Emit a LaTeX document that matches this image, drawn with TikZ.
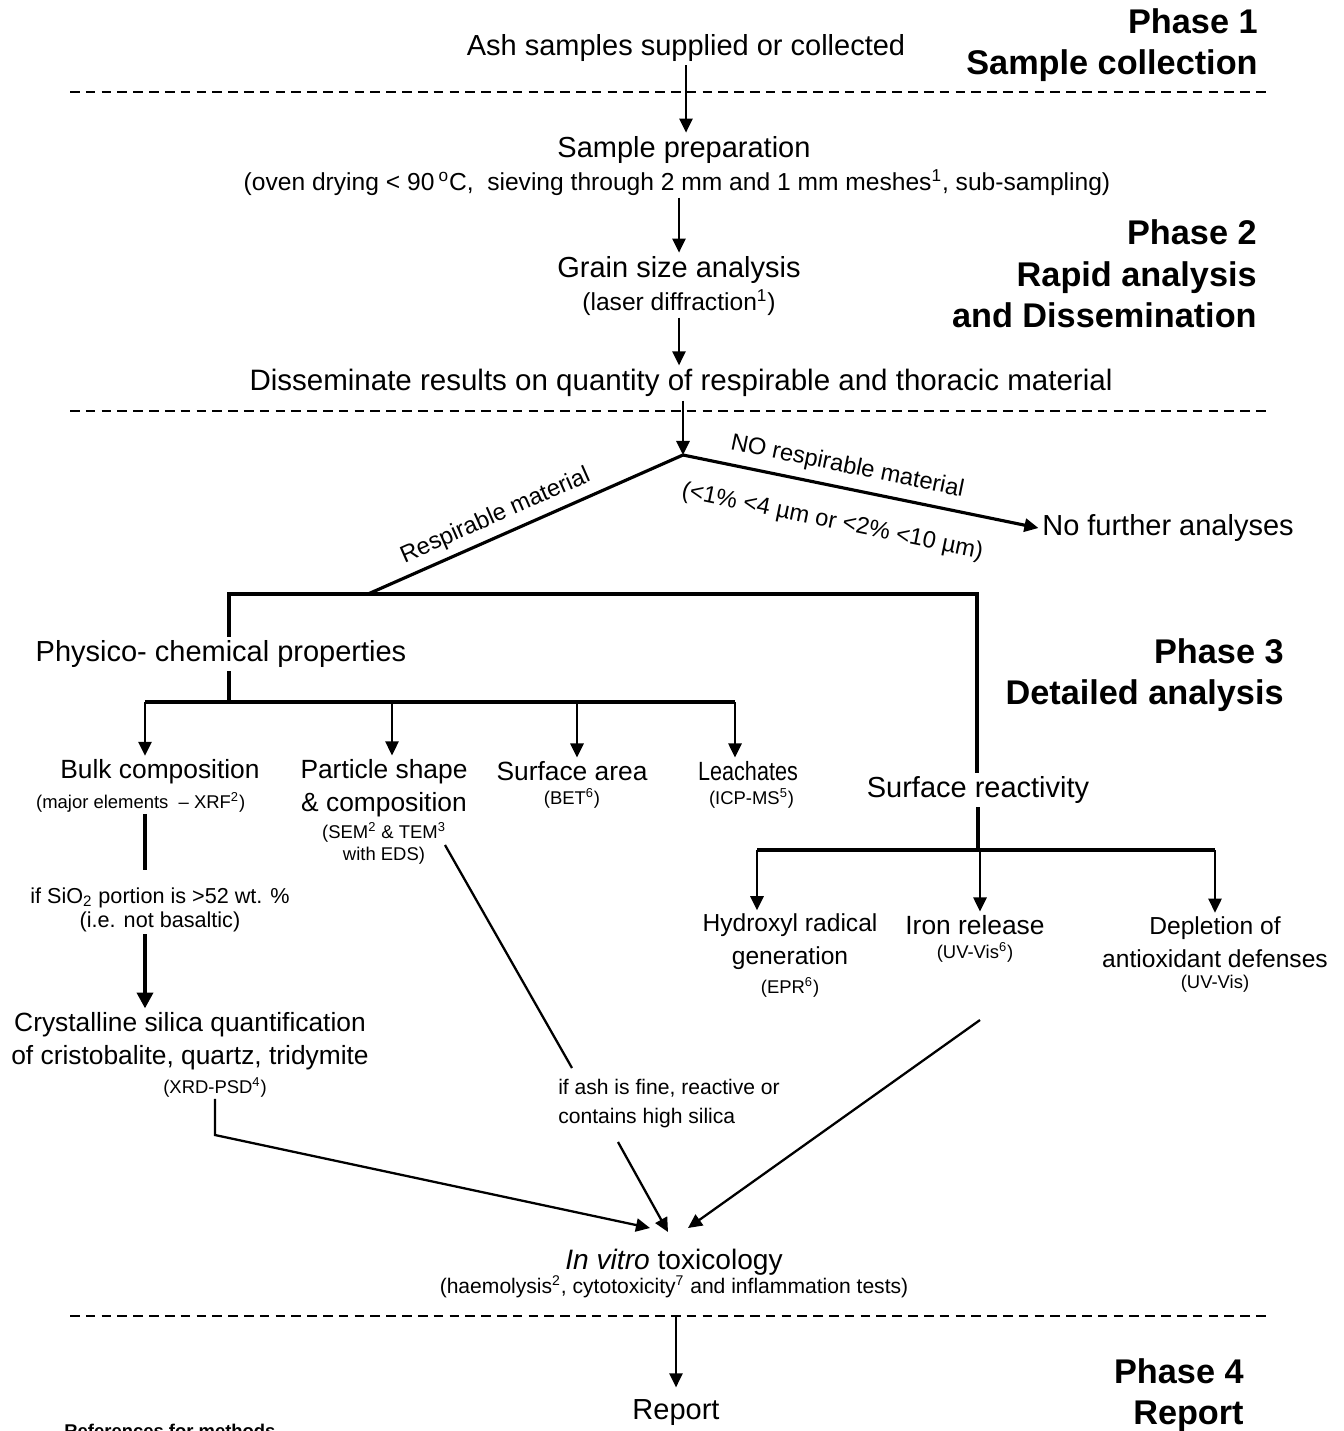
\documentclass[tikz,border=0pt]{standalone}
\usepackage{fontspec}
\setmainfont{Liberation Sans}
\newfontfamily\narrowsans[FakeStretch=0.82]{Liberation Sans}
\usetikzlibrary{arrows.meta,positioning}
\tikzset{
    %Define standard arrow tip
    >={Triangle[length=8pt,width=7.5pt]},
    %Define styles for labels
    mainlabel/.style={
           font=\fontsize{16.5}{20}\selectfont,
           align=center,
           inner sep=2pt},
    sublabel/.style={
           font=\fontsize{14}{17}\selectfont,
           align=center,
           inner sep=1pt},
    lowlabel/.style={
           font=\fontsize{15}{18.7}\selectfont,
           align=center,
           inner sep=2pt},
    smalllabel/.style={
           font=\fontsize{10.5}{12.3}\selectfont,
           align=center,
           inner sep=1pt},
    notelabel/.style={
           font=\fontsize{12.3}{13.6}\selectfont,
           align=center,
           inner sep=1pt},
    branchlabel/.style={
           font=\fontsize{13.5}{16}\selectfont,
           inner sep=2pt},
    phasehead/.style={
           font=\bfseries\fontsize{19.5}{23.5}\selectfont,
           align=right,
           inner sep=0pt,
           anchor=east},
    refslabel/.style={
           font=\bfseries\fontsize{10.5}{12}\selectfont,
           inner sep=0pt},
    % Define line styles
    flow/.style={
           ->,
           line width=1.3pt},
    tree/.style={
           line width=1.8pt},
    bigflow/.style={
           -{Triangle[length=9pt,width=9pt]},
           line width=2.4pt},
    sep/.style={
           dash pattern=on 5.5pt off 3.5pt,
           line width=1pt}
}
\begin{document}
\begin{tikzpicture}[x=0.02cm,y=-0.02cm]
\useasboundingbox (0,0) rectangle (1344,1431);

% phases
\node[phasehead] (ph1) at (1258,45) {Phase 1\\Sample collection};
\node[phasehead] (ph2) at (1257,274) {Phase 2\\Rapid analysis\\and Dissemination};
\node[phasehead] (ph3) at (1284,675) {Phase 3\\Detailed analysis};
\node[phasehead] (ph4) at (1244,1395) {Phase 4\\Report};
\foreach \y in {92,411,1316}
    \draw[sep] (70,\y) -- (1268,\y);

% sample collection and rapid analysis
\node[mainlabel] (ash) at (686,48) {Ash samples supplied or collected};
\node[mainlabel] (prep) at (684,150) {Sample preparation};
\node[sublabel, below=0pt of prep, xshift=-4] (prepsub) {(oven drying < 90\,\textsuperscript{o}C,\ \ sieving through 2 mm and 1 mm meshes\textsuperscript{1}, sub-sampling)};
\node[mainlabel] (grain) at (679,270) {Grain size analysis};
\node[sublabel, font=\fontsize{14}{16}\selectfont, below=0pt of grain] (grainsub) {(laser diffraction\textsuperscript{1})};
\node[mainlabel, font=\fontsize{16.8}{19}\selectfont] (dissem) at (681,383) {Disseminate results on quantity of respirable and thoracic material};
\node[mainlabel] (nofurther) at (1168,528) {No further analyses};

\draw[flow] (ash.south) -- (ash.south |- prep.north);
\draw[flow] (grain.north |- prepsub.south) -- (grain.north);
\draw[flow] (grainsub.south) -- (grainsub.south |- dissem.north);

% split
\coordinate (split) at (683,455);
\coordinate (resp) at (368,594);
\coordinate (hl) at (229,594);
\coordinate (hr) at (977,594);
\draw[flow] (split |- dissem.south) -- (split);
\draw[tree] (split) -- node[branchlabel, sloped, above=2pt, pos=0.57] {Respirable material} (resp);
\draw[tree, ->] (split) -- node[branchlabel, sloped, above=3pt, pos=0.45] {NO respirable material}
    node[branchlabel, sloped, below=11pt, pos=0.44] {(<1\% <4 µm or <2\% <10 µm)} (nofurther.west);

% detailed analysis
\node[mainlabel] (physico) at (221,654) {Physico- chemical properties};
\node[mainlabel] (react) at (978,790) {Surface reactivity};
\draw[tree] (hl |- physico.north) -- (hl) -- (hr) -- (hr |- react.north);

\node[lowlabel] (bulk) at (160,772) {Bulk composition};
\node[smalllabel, below=1pt of bulk, xshift=-11] (bulksub) {(major elements\ \ – XRF\textsuperscript{2})};
\node[lowlabel] (particle) at (384,788) {Particle shape\\\& composition};
\node[smalllabel, below=0pt of particle] (particlesub) {(SEM\textsuperscript{2} \& TEM\textsuperscript{3}\\with EDS)};
\node[lowlabel] (area) at (572,771) {Surface area};
\node[smalllabel, below=1pt of area] (areasub) {(BET\textsuperscript{6})};
\node[lowlabel, font=\narrowsans\fontsize{15}{18.7}\selectfont] (leach) at (748,771) {Leachates};
\node[smalllabel, below=1pt of leach, xshift=2] (leachsub) {(ICP-MS\textsuperscript{5})};

\coordinate (bl) at (145,702);
\coordinate (br) at (735,702);
\draw[tree] (hl |- physico.south) -- (hl |- bl);
\draw[tree] (bl) -- (br);
\foreach \x/\n in {145/bulk,392/particle,577/area,735/leach}
    \draw[flow] (\x,702) -- (\x,702 |- \n.north);

\node[lowlabel, font=\fontsize{14}{18.7}\selectfont] (hydro) at (790,942) {Hydroxyl radical\\generation};
\node[smalllabel, below=1pt of hydro] (hydrosub) {(EPR\textsuperscript{6})};
\node[lowlabel] (iron) at (975,925) {Iron release};
\node[smalllabel, below=1pt of iron] (ironsub) {(UV-Vis\textsuperscript{6})};
\node[lowlabel, font=\fontsize{14}{18.7}\selectfont] (deplete) at (1215,942) {Depletion of\\antioxidant defenses};
\node[smalllabel, below=1pt of deplete] (depletesub) {(UV-Vis)};

\coordinate (rl) at (757,850);
\coordinate (rr) at (1215,850);
\draw[tree] (react.south) -- (react.south |- rl);
\draw[tree] (rl) -- (rr);
\foreach \x/\n in {757/hydro,980/iron,1215/deplete}
    \draw[flow] (\x,850) -- (\x,850 |- \n.north);

% silica
\node[notelabel] (sio) at (160,910) {if SiO\textsubscript{2} portion is >52 wt. \%\\(i.e. not basaltic)};
\node[lowlabel] (crys) at (190,1041) {Crystalline silica quantification\\of cristobalite, quartz, tridymite};
\node[smalllabel] (crysub) at (215,1087) {(XRD-PSD\textsuperscript{4})};
\coordinate (sx) at (145,870);
\draw[tree, line width=2.4pt] (sx |- bulksub.south) -- (sx);
\draw[bigflow] (sx |- sio.south) -- (sx |- crys.north);

% toxicology
\node[notelabel, align=left, font=\fontsize{12}{16.5}\selectfont] (ifash) at (669,1104) {if ash is fine, reactive or\\contains high silica};
\node[mainlabel, font=\fontsize{16}{19}\selectfont] (tox) at (674,1262) {\textit{In vitro} toxicology};
\node[notelabel, font=\fontsize{12}{14}\selectfont, below=-3pt of tox] (toxsub) {(haemolysis\textsuperscript{2}, cytotoxicity\textsuperscript{7} and inflammation tests)};

\coordinate (t1) at (650,1228);
\coordinate (t2) at (668,1232);
\coordinate (t3) at (688,1228);
\coordinate (xc) at (215,1135);
\coordinate (pe) at (445,845);
\coordinate (pm) at (572,1068);
\coordinate (pn) at (618,1142);
\coordinate (ie) at (980,1020);
\draw[flow] (crysub.south) -- (xc) -- (t1);
\draw[flow, -] (pe) -- (pm);
\draw[flow] (pn) -- (t2);
\draw[flow] (ie) -- (t3);

% report
\node[mainlabel] (report) at (676,1413) {Report};
\coordinate (d4) at (676,1316);
\draw[flow, shorten >=5pt] (d4) -- (report.north);
\node[refslabel, anchor=base west] (refs) at (64,1437) {References for methods};
\end{tikzpicture}
\end{document}
